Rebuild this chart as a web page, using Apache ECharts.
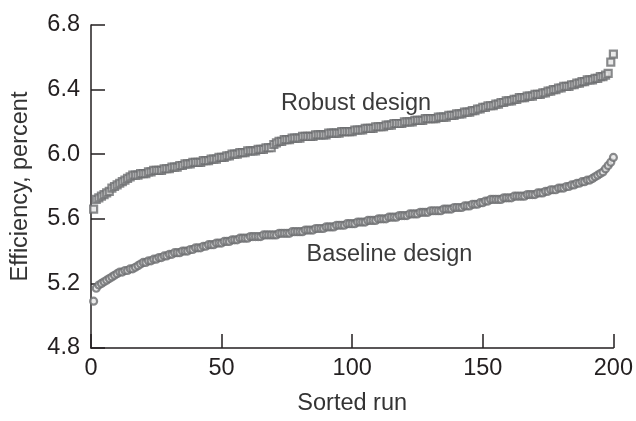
<!DOCTYPE html>
<html>
<head>
<meta charset="utf-8">
<script src="https://cdn.jsdelivr.net/npm/echarts@6/dist/echarts.min.js"></script>
<style>
  html, body { margin: 0; padding: 0; background: #fff; }
  #chart { width: 636px; height: 421px; }
</style>
</head>
<body>
<div id="chart"></div>
<script>
  // sorted run efficiency, runs 1..200
  var robust = [
    5.66, 5.72, 5.73, 5.74, 5.75, 5.76, 5.77, 5.79, 5.80, 5.81,
    5.82, 5.83, 5.84, 5.85, 5.86, 5.87, 5.87, 5.87, 5.88, 5.88,
    5.88, 5.89, 5.89, 5.90, 5.90, 5.90, 5.90, 5.91, 5.91, 5.91,
    5.92, 5.92, 5.92, 5.93, 5.93, 5.94, 5.94, 5.94, 5.95, 5.95,
    5.95, 5.95, 5.96, 5.96, 5.96, 5.97, 5.97, 5.97, 5.98, 5.98,
    5.98, 5.99, 5.99, 6.00, 6.00, 6.00, 6.01, 6.01, 6.01, 6.02,
    6.02, 6.02, 6.02, 6.03, 6.03, 6.03, 6.04, 6.04, 6.04, 6.06,
    6.07, 6.08, 6.08, 6.09, 6.09, 6.09, 6.10, 6.10, 6.10, 6.10,
    6.11, 6.11, 6.11, 6.11, 6.11, 6.12, 6.12, 6.12, 6.12, 6.12,
    6.13, 6.13, 6.13, 6.13, 6.13, 6.14, 6.14, 6.14, 6.14, 6.14,
    6.15, 6.15, 6.15, 6.15, 6.16, 6.16, 6.16, 6.16, 6.17, 6.17,
    6.17, 6.17, 6.18, 6.18, 6.18, 6.19, 6.19, 6.19, 6.19, 6.20,
    6.20, 6.20, 6.20, 6.21, 6.21, 6.21, 6.21, 6.22, 6.22, 6.22,
    6.22, 6.22, 6.23, 6.23, 6.23, 6.23, 6.24, 6.24, 6.24, 6.25,
    6.25, 6.25, 6.26, 6.26, 6.26, 6.27, 6.27, 6.28, 6.28, 6.29,
    6.29, 6.30, 6.30, 6.30, 6.31, 6.31, 6.32, 6.32, 6.33, 6.33,
    6.33, 6.34, 6.34, 6.35, 6.35, 6.35, 6.36, 6.36, 6.36, 6.37,
    6.37, 6.37, 6.38, 6.38, 6.39, 6.39, 6.40, 6.40, 6.41, 6.41,
    6.42, 6.42, 6.42, 6.43, 6.43, 6.44, 6.44, 6.45, 6.45, 6.46,
    6.46, 6.46, 6.47, 6.47, 6.48, 6.48, 6.49, 6.50, 6.57, 6.62
  ];
  var baseline = [
    5.09, 5.17, 5.19, 5.20, 5.21, 5.22, 5.23, 5.24, 5.25, 5.26,
    5.27, 5.27, 5.28, 5.28, 5.29, 5.29, 5.30, 5.31, 5.32, 5.33,
    5.33, 5.34, 5.34, 5.35, 5.35, 5.36, 5.36, 5.37, 5.37, 5.38,
    5.38, 5.39, 5.39, 5.39, 5.40, 5.40, 5.40, 5.41, 5.41, 5.42,
    5.42, 5.42, 5.43, 5.43, 5.44, 5.44, 5.44, 5.45, 5.45, 5.45,
    5.46, 5.46, 5.46, 5.47, 5.47, 5.47, 5.48, 5.48, 5.48, 5.48,
    5.49, 5.49, 5.49, 5.49, 5.49, 5.50, 5.50, 5.50, 5.50, 5.50,
    5.50, 5.51, 5.51, 5.51, 5.51, 5.51, 5.52, 5.52, 5.52, 5.52,
    5.52, 5.53, 5.53, 5.53, 5.53, 5.54, 5.54, 5.54, 5.54, 5.55,
    5.55, 5.55, 5.55, 5.56, 5.56, 5.56, 5.56, 5.57, 5.57, 5.57,
    5.57, 5.58, 5.58, 5.58, 5.58, 5.59, 5.59, 5.59, 5.59, 5.60,
    5.60, 5.60, 5.60, 5.61, 5.61, 5.61, 5.61, 5.62, 5.62, 5.62,
    5.62, 5.63, 5.63, 5.63, 5.63, 5.64, 5.64, 5.64, 5.64, 5.65,
    5.65, 5.65, 5.65, 5.65, 5.66, 5.66, 5.66, 5.66, 5.67, 5.67,
    5.67, 5.67, 5.68, 5.68, 5.68, 5.69, 5.69, 5.69, 5.70, 5.70,
    5.71, 5.71, 5.72, 5.72, 5.72, 5.72, 5.72, 5.73, 5.73, 5.73,
    5.73, 5.74, 5.74, 5.74, 5.74, 5.74, 5.75, 5.75, 5.75, 5.75,
    5.76, 5.76, 5.76, 5.77, 5.77, 5.78, 5.78, 5.78, 5.79, 5.79,
    5.79, 5.80, 5.80, 5.81, 5.81, 5.82, 5.82, 5.83, 5.83, 5.84,
    5.84, 5.85, 5.86, 5.87, 5.88, 5.89, 5.91, 5.93, 5.95, 5.98
  ];
  var xTicks = [0, 50, 100, 150, 200];
  var yTicks = [4.8, 5.2, 5.6, 6.0, 6.4, 6.8];
  // where the two curve labels sit, in data units
  var robustLabelAt = [72.7, 6.315];
  var baselineLabelAt = [82.5, 5.376];

  var gray = '#6d6e71';
  var ink = '#231f20';
  var font = '"Liberation Sans", Arial, sans-serif';
  var fs = 23.5;

  function pairs(arr) {
    return arr.map(function (v, i) { return [i + 1, v]; });
  }

  var chart = echarts.init(document.getElementById('chart'));
  chart.setOption({
    animation: false,
    textStyle: { fontFamily: font },
    grid: { left: 91, right: 17, top: 25, bottom: 66 },
    xAxis: {
      type: 'value',
      min: xTicks[0], max: xTicks[xTicks.length - 1], interval: 50,
      name: 'Sorted run', nameLocation: 'middle', nameGap: 44,
      nameTextStyle: { fontSize: fs, color: '#333', fontFamily: font },
      axisLine: { lineStyle: { color: ink, width: 1.5 } },
      axisTick: { inside: true, length: 14, lineStyle: { color: ink, width: 1.5 } },
      axisLabel: { fontSize: fs, color: ink, margin: 9, fontFamily: font },
      splitLine: { show: false }
    },
    yAxis: {
      type: 'value',
      min: yTicks[0], max: yTicks[yTicks.length - 1], interval: 0.4,
      name: 'Efficiency, percent', nameLocation: 'middle', nameGap: 58,
      nameTextStyle: { fontSize: fs, color: '#333', fontFamily: font },
      axisLine: { show: true, lineStyle: { color: ink, width: 1.5 } },
      axisTick: { show: true, inside: true, length: 14, lineStyle: { color: ink, width: 1.5 } },
      axisLabel: { fontSize: fs, color: ink, margin: 11, fontFamily: font,
        formatter: function (v) { return v.toFixed(1); } },
      splitLine: { show: false }
    },
    series: [
      {
        name: 'Robust design',
        type: 'scatter',
        symbol: 'rect',
        symbolSize: 7,
        data: pairs(robust),
        itemStyle: { color: '#e6e6e6', borderColor: gray, borderWidth: 2.2 },
        markPoint: {
          symbolSize: 0,
          data: [{ coord: robustLabelAt }],
          label: { show: true, position: 'right', distance: 0, formatter: 'Robust design',
            fontSize: fs, color: '#3a3a3a', fontFamily: font }
        }
      },
      {
        name: 'Baseline design',
        type: 'scatter',
        symbol: 'circle',
        symbolSize: 7,
        data: pairs(baseline),
        itemStyle: { color: '#e6e6e6', borderColor: gray, borderWidth: 2.2 },
        markPoint: {
          symbolSize: 0,
          data: [{ coord: baselineLabelAt }],
          label: { show: true, position: 'right', distance: 0, formatter: 'Baseline design',
            fontSize: fs, color: '#3a3a3a', fontFamily: font }
        }
      }
    ]
  });
</script>
</body>
</html>
